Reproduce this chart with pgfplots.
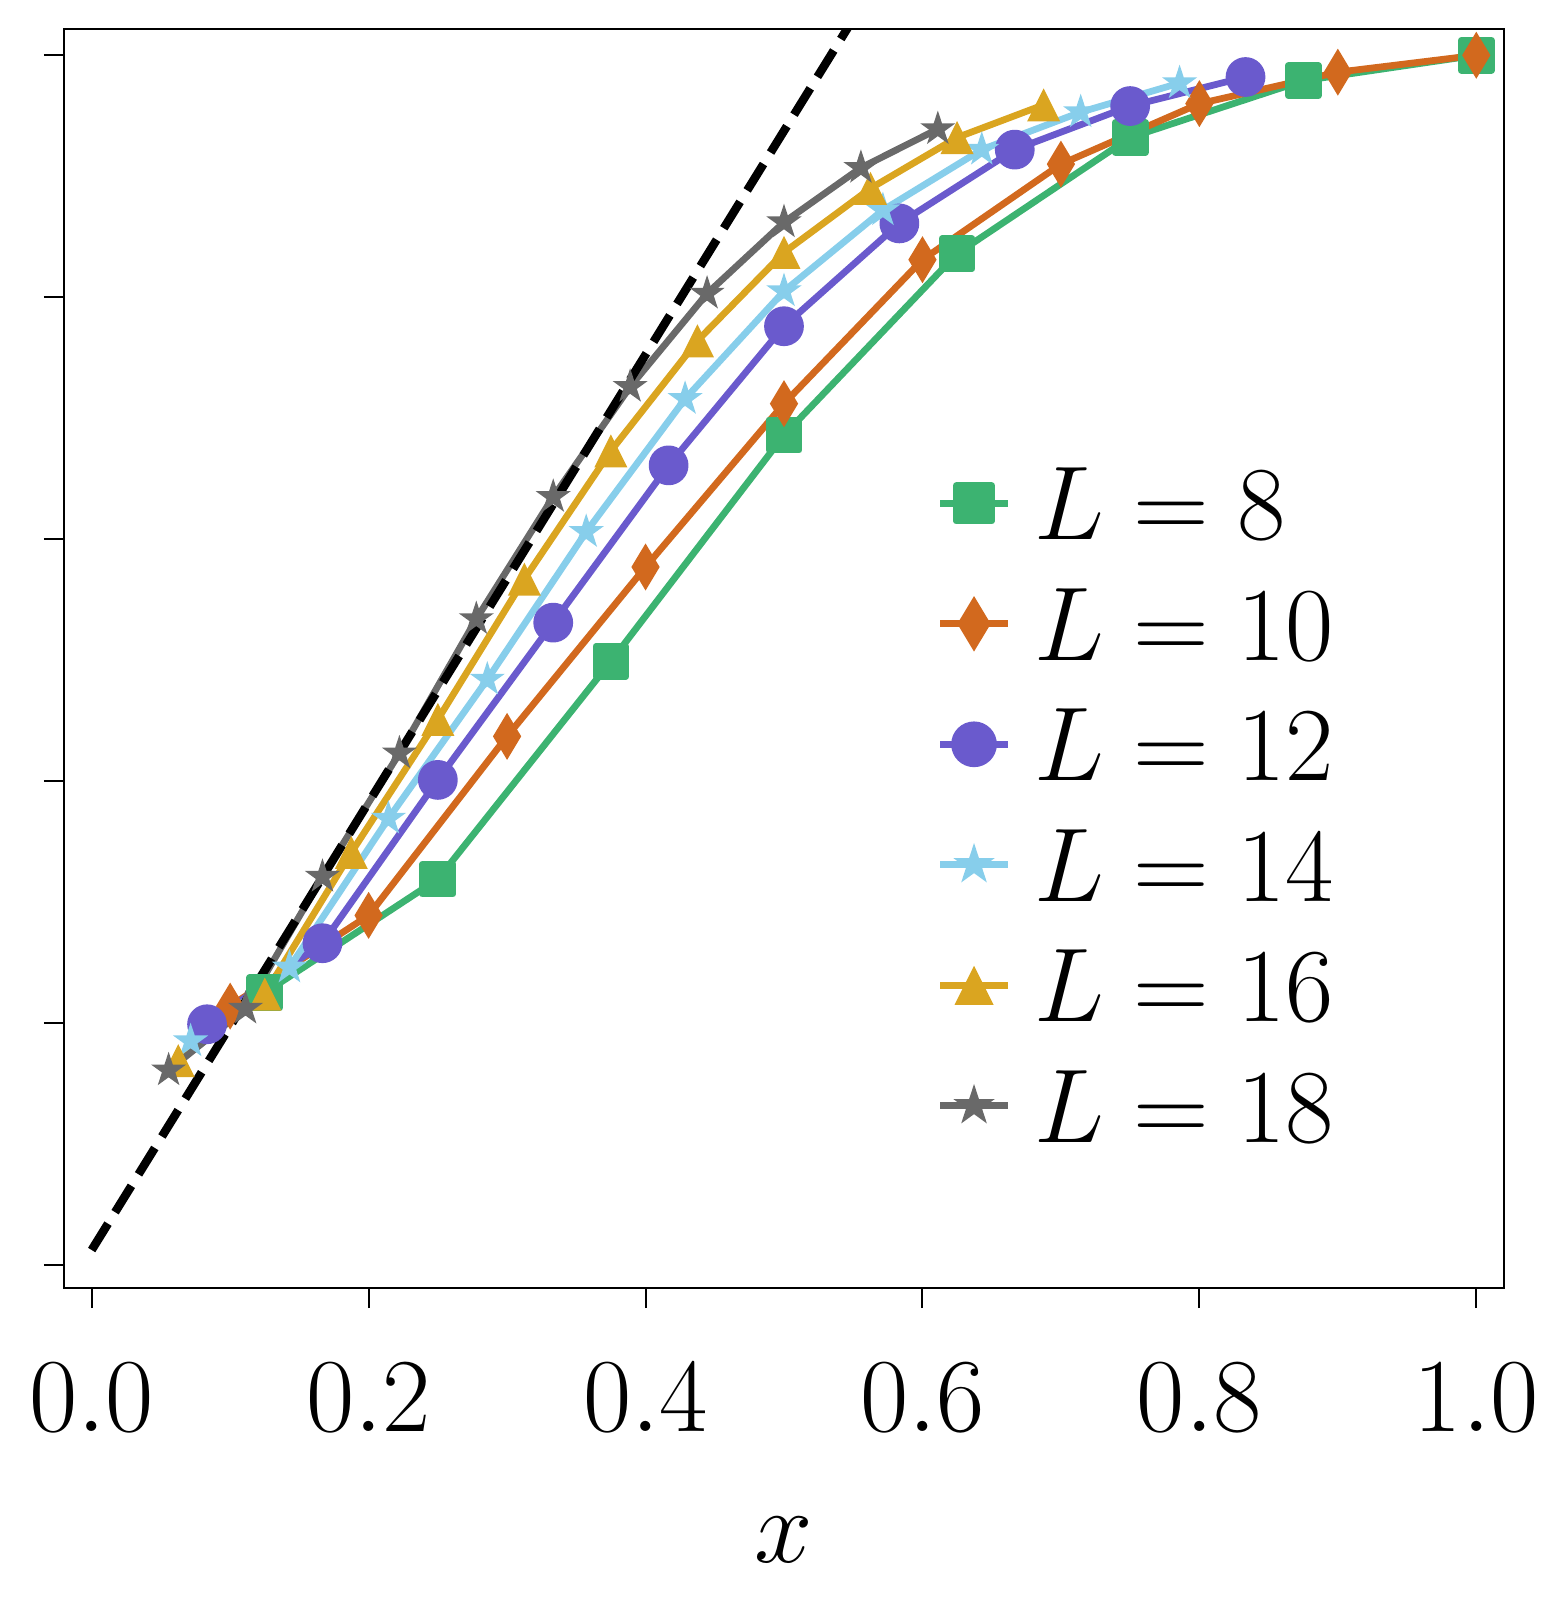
\RequirePackage{fix-cm}
\documentclass[border=0pt]{standalone}
\usepackage{pgfplots}
\pgfplotsset{compat=1.18}
\definecolor{cL8}{RGB}{60,179,113}
\definecolor{cL10}{RGB}{210,105,30}
\definecolor{cL12}{RGB}{106,90,205}
\definecolor{cL14}{RGB}{135,206,235}
\definecolor{cL16}{RGB}{218,165,32}
\definecolor{cL18}{RGB}{105,105,105}
\pgfdeclareplotmark{mtri}{%
  \pgfpathmoveto{\pgfqpoint{0pt}{\pgfplotmarksize}}%
  \pgfpathlineto{\pgfqpoint{-\pgfplotmarksize}{-\pgfplotmarksize}}%
  \pgfpathlineto{\pgfqpoint{\pgfplotmarksize}{-\pgfplotmarksize}}%
  \pgfpathclose\pgfusepathqfill}
\pgfdeclareplotmark{mdia}{%
  \pgfpathmoveto{\pgfqpoint{0pt}{1.414\pgfplotmarksize}}%
  \pgfpathlineto{\pgfqpoint{-0.849\pgfplotmarksize}{0pt}}%
  \pgfpathlineto{\pgfqpoint{0pt}{-1.414\pgfplotmarksize}}%
  \pgfpathlineto{\pgfqpoint{0.849\pgfplotmarksize}{0pt}}%
  \pgfpathclose\pgfusepathqfill}
\pgfdeclareplotmark{mstar}{%
  \pgfpathmoveto{\pgfqpoint{0pt}{\pgfplotmarksize}}%
  \pgfpathlineto{\pgfqpoint{-0.2245\pgfplotmarksize}{0.309\pgfplotmarksize}}%
  \pgfpathlineto{\pgfqpoint{-0.9511\pgfplotmarksize}{0.309\pgfplotmarksize}}%
  \pgfpathlineto{\pgfqpoint{-0.3633\pgfplotmarksize}{-0.118\pgfplotmarksize}}%
  \pgfpathlineto{\pgfqpoint{-0.5878\pgfplotmarksize}{-0.809\pgfplotmarksize}}%
  \pgfpathlineto{\pgfqpoint{0pt}{-0.382\pgfplotmarksize}}%
  \pgfpathlineto{\pgfqpoint{0.5878\pgfplotmarksize}{-0.809\pgfplotmarksize}}%
  \pgfpathlineto{\pgfqpoint{0.3633\pgfplotmarksize}{-0.118\pgfplotmarksize}}%
  \pgfpathlineto{\pgfqpoint{0.9511\pgfplotmarksize}{0.309\pgfplotmarksize}}%
  \pgfpathlineto{\pgfqpoint{0.2245\pgfplotmarksize}{0.309\pgfplotmarksize}}%
  \pgfpathclose\pgfusepathqfill}
\newcommand{\fs}{\fontsize{21}{25}\selectfont}
\begin{document}
\begin{tikzpicture}
\begin{axis}[
  at={(0,0)}, anchor=south west,
  scale only axis,
  width=288pt, height=251.8pt,
  xmin=-0.02, xmax=1.02,
  ymin=-0.019, ymax=1.0217,
  xtick={0,0.2,0.4,0.6,0.8,1.0},
  ytick={0,0.2,0.4,0.6,0.8,1.0},
  yticklabels={},
  tick align=outside,
  xtick pos=bottom, ytick pos=left,
  major tick length=4pt,
  every tick/.style={black, line width=0.4pt},
  axis line style={line width=0.55pt},
  tick label style={font=\fs},
  xticklabel style={anchor=center, yshift=-18pt,
    /pgf/number format/fixed, /pgf/number format/fixed zerofill,
    /pgf/number format/precision=1},
  xlabel={$x$},
  xlabel style={font=\fs, at={(axis description cs:0.5,0)}, anchor=center, yshift=-50.4pt},
  legend style={font=\fs, draw=none, fill=none, inner sep=0pt,
    at={(axis description cs:0.6055,0.384)}, anchor=west,
    row sep=5.6pt, column sep=2.6pt,
    nodes={text height=14.5pt, text depth=0pt, inner sep=2pt}},
  legend cell align=left,
  legend image code/.code={%
    \draw[mark repeat=2,mark phase=2,mark options={scale=1.18}] plot coordinates {(0pt,0pt) (6.75pt,0pt) (13.5pt,0pt)};},
  every axis plot/.append style={line width=1.35pt, line join=round},
]
\addplot[cL8, mark=square*, mark size=3.0pt] coordinates {
(0.125,0.225) (0.25,0.319) (0.375,0.499) (0.5,0.686) (0.625,0.836) (0.75,0.932) (0.875,0.979) (1.0,1.0)};
\addlegendentry{$L=8$}
\addplot[cL10, mark=mdia, mark size=3.33pt] coordinates {
(0.1,0.214) (0.2,0.289) (0.3,0.437) (0.4,0.577) (0.5,0.712) (0.6,0.831) (0.7,0.910) (0.8,0.960) (0.9,0.986) (1.0,1.0)};
\addlegendentry{$L=10$}
\addplot[cL12, mark=*, mark size=3.3pt] coordinates {
(0.08333,0.199) (0.16667,0.266) (0.25,0.401) (0.33333,0.531) (0.41667,0.661) (0.5,0.776) (0.58333,0.861) (0.66667,0.922) (0.75,0.958) (0.83333,0.982)};
\addlegendentry{$L=12$}
\addplot[cL14, mark=mstar, mark size=3.7pt] coordinates {
(0.071429,0.185) (0.142857,0.246) (0.214286,0.369) (0.285714,0.484) (0.357143,0.606) (0.428571,0.716) (0.5,0.805) (0.571429,0.872) (0.642857,0.922) (0.714286,0.953) (0.785714,0.977)};
\addlegendentry{$L=14$}
\addplot[cL16, mark=mtri, mark size=3.3pt] coordinates {
(0.0625,0.169) (0.125,0.224) (0.1875,0.341) (0.25,0.451) (0.3125,0.567) (0.375,0.673) (0.4375,0.764) (0.5,0.837) (0.5625,0.890) (0.625,0.932) (0.6875,0.959)};
\addlegendentry{$L=16$}
\addplot[cL18, mark=mstar, mark size=3.7pt] coordinates {
(0.055556,0.161) (0.111111,0.212) (0.166667,0.321) (0.222222,0.423) (0.277778,0.534) (0.333333,0.635) (0.388889,0.726) (0.444444,0.803) (0.5,0.862) (0.555556,0.907) (0.611111,0.939)};
\addlegendentry{$L=18$}
\addplot[black, line width=1.7pt, dash pattern=on 6.2pt off 2.7pt, forget plot] coordinates {(0,0.0124) (0.57,1.067)};
\end{axis}
\path (-12.8pt,-64.4pt) rectangle (300.8pt,257.6pt);
\end{tikzpicture}
\end{document}
